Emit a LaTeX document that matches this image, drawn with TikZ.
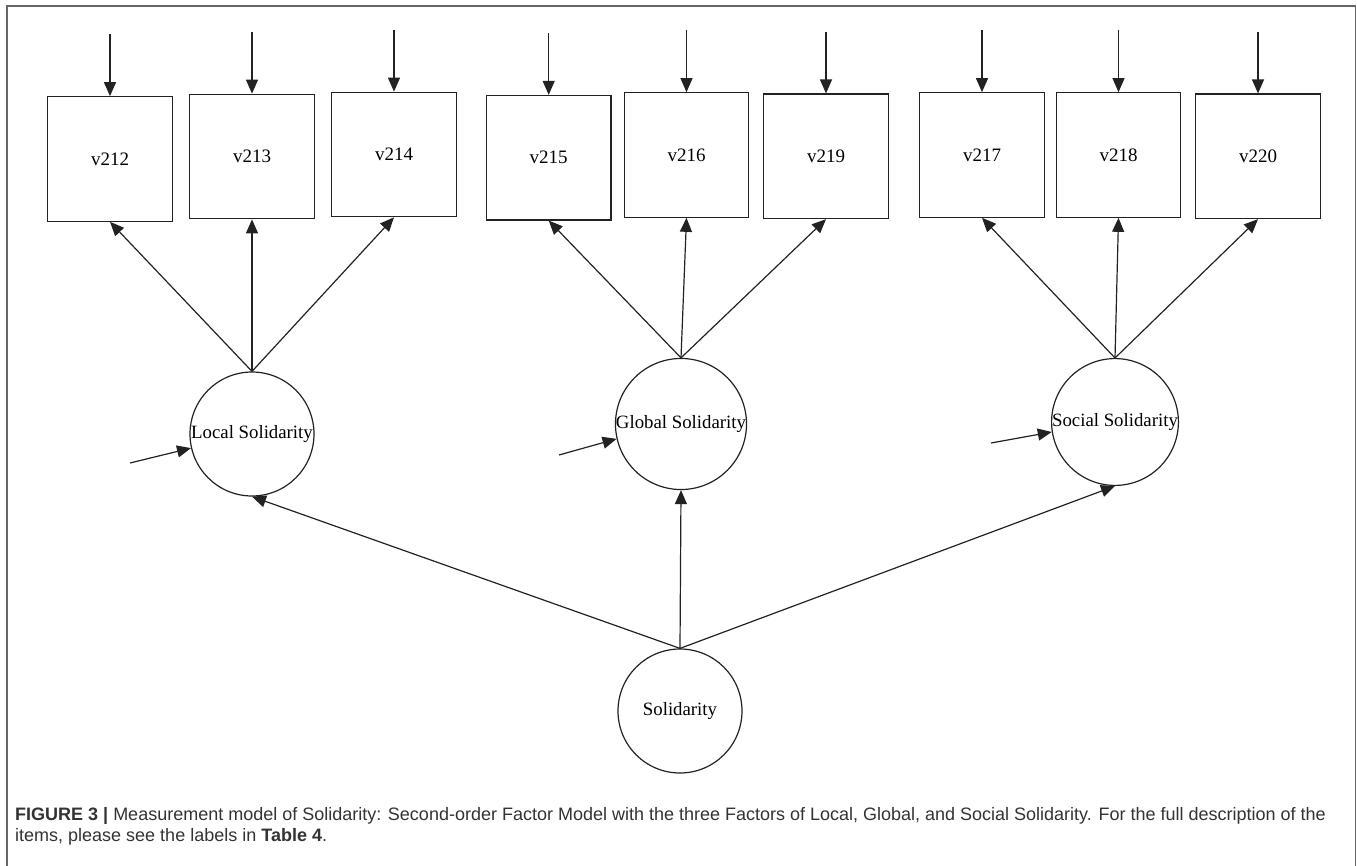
\documentclass[tikz,border=0pt]{standalone}
\usepackage{fontspec}
\setmainfont{Liberation Serif}
\newfontfamily\capfont{Liberation Sans}
\usetikzlibrary{arrows.meta}
\definecolor{ink}{HTML}{222222}
\definecolor{framegray}{HTML}{666666}
\definecolor{captext}{HTML}{333333}
\begin{document}
\begin{tikzpicture}[x=1pt,y=-1pt,
  obs/.style={draw=ink,line width=1.2pt,minimum width=124.5pt,minimum height=124.5pt,inner sep=0pt,font=\fontsize{19}{21}\selectfont},
  lat/.style={draw=ink,circle,line width=1.2pt,minimum size=124pt,inner sep=0pt,font=\fontsize{18.8}{21}\selectfont},
  arr/.style={draw=ink,line width=1.2pt,-{Triangle[length=14pt,width=12pt]}},
  captxt/.style={anchor=base west,inner sep=0pt,text=captext,font=\capfont\fontsize{18}{21}\selectfont},
  ]
\useasboundingbox (0,0) rectangle (1357,866);
\draw[framegray,line width=1.5pt] (7,866) -- (7,6) -- (1355.5,6) -- (1355.5,866);

% observed variables
\node[obs] (v212) at (110,159) {v212};
\node[obs] (v213) at (252,156.5) {v213};
\node[obs] (v214) at (394,154.5) {v214};
\node[obs] (v215) at (548.7,157.7) {v215};
\node[obs] (v216) at (686.5,155) {v216};
\node[obs] (v219) at (826,156.3) {v219};
\node[obs] (v217) at (982,155) {v217};
\node[obs] (v218) at (1118.5,155) {v218};
\node[obs] (v220) at (1258,156.3) {v220};

% error terms
\coordinate (e212) at (110,34);
\coordinate (e213) at (252,32);
\coordinate (e214) at (394,30);
\coordinate (e215) at (548.7,33);
\coordinate (e216) at (686.5,30);
\coordinate (e219) at (826,32);
\coordinate (e217) at (982,30);
\coordinate (e218) at (1118.5,30);
\coordinate (e220) at (1258,32);
\foreach \v in {212,213,214,215,216,219,217,218,220}{
  \draw[arr] (e\v) -- (v\v.north);
}

% latent variables
\node[lat] (local) at (252,434) {Local Solidarity};
\node[lat] (global) at (681,424) {Global Solidarity};
\node[lat] (social) at (1115,422) {Social Solidarity};
\node[lat] (sol) at (680,711) {Solidarity};

% loadings
\draw[arr] (local.north) -- (v212.south);
\draw[arr] (local.north) -- (v213.south);
\draw[arr] (local.north) -- (v214.south);
\draw[arr] (global.north) -- (v215.south);
\draw[arr] (global.north) -- (v216.south);
\draw[arr] (global.north) -- (v219.south);
\draw[arr] (social.north) -- (v217.south);
\draw[arr] (social.north) -- (v218.south);
\draw[arr] (social.north) -- (v220.south);

% second order
\draw[arr] (sol.north) -- (local.south);
\draw[arr] (sol.north) -- (global.south);
\draw[arr] (sol.north) -- (social.south);

% disturbances
\coordinate (dl) at (130,463);
\coordinate (dg) at (559,455);
\coordinate (ds) at (991,443);
\draw[arr] (dl) -- (local.193);
\draw[arr] (dg) -- (global.193);
\draw[arr] (ds) -- (social.189);

% caption
\node[captxt] (cap1) at (15,820) {\textbf{FIGURE 3 |} Measurement model of Solidarity: Second-order Factor Model with the three Factors of Local, Global, and Social Solidarity. For the full description of the};
\node[captxt] (cap2) at (15,841) {items, please see the labels in \textbf{Table 4}.};
\end{tikzpicture}
\end{document}
